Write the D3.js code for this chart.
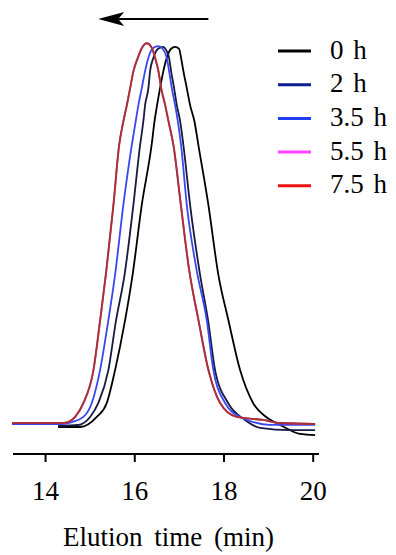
<!DOCTYPE html>
<html>
<head>
<meta charset="utf-8">
<script src="https://cdn.jsdelivr.net/npm/d3@7"></script>
</head>
<body style="margin:0">
<script>
// ---- data (elution time in min, normalized signal) ----
const seriesNames = ["0 h", "2 h", "3.5 h", "5.5 h", "7.5 h"];
const legendColors = ["#000000", "#0d1f8f", "#1f3df5", "#ff44ff", "#ee1111"];
const lineColors = ["#000000", "#141a40", "#3a46f0", "#c0466e", "#a8303c"];

const t0h = [14.28, 14.774, 15.148, 15.372, 15.558, 15.783, 15.951, 16.157, 16.377, 16.444, 16.5, 16.567, 16.641, 16.717, 16.814, 16.904, 16.993, 17.038, 17.09, 17.166, 17.24, 17.336, 17.426, 17.65, 17.874, 18.099, 18.361, 18.652, 18.944, 19.258, 19.482, 19.706, 20.043];
const y0h = [-1.06, -1.06, 1.6, 5.3, 14.0, 27.2, 39.2, 57.7, 73.5, 79.9, 84.1, 88.6, 93.1, 96.6, 99.0, 99.5, 99.0, 96.6, 93.1, 88.6, 84.1, 79.9, 73.5, 57.7, 39.2, 27.2, 14.0, 5.3, 1.6, -0.5, -1.9, -2.9, -3.2];

const t2h = [14.28, 14.729, 14.998, 15.184, 15.408, 15.581, 15.771, 15.969, 16.119, 16.193, 16.231, 16.305, 16.343, 16.417, 16.522, 16.635, 16.702, 16.769, 16.814, 16.881, 16.942, 17.016, 17.09, 17.24, 17.464, 17.643, 17.8, 18.092, 18.473, 18.809, 19.482, 20.043];
const y2h = [-0.79, -0.53, 1.6, 5.3, 14.0, 27.2, 39.2, 57.7, 73.5, 79.9, 84.1, 88.6, 93.1, 96.6, 99.0, 99.5, 98.7, 96.6, 93.1, 88.6, 84.1, 79.9, 73.5, 57.7, 39.2, 27.2, 14.0, 5.3, 0.8, -1.3, -1.9, -1.9];

const t35h = [13.249, 14.37, 14.594, 14.848, 15.036, 15.222, 15.408, 15.558, 15.744, 15.933, 16.022, 16.081, 16.157, 16.231, 16.305, 16.41, 16.529, 16.623, 16.717, 16.769, 16.83, 16.904, 16.964, 17.038, 17.166, 17.386, 17.614, 17.762, 18.025, 18.361, 18.518, 19.034, 20.043];
const y35h = [-0.26, -0.26, 0.26, 1.6, 5.3, 14.0, 27.2, 39.2, 57.7, 73.5, 79.9, 84.1, 88.6, 93.1, 96.6, 99.2, 99.7, 99.0, 96.6, 93.1, 88.6, 84.1, 79.9, 73.5, 57.7, 40.5, 27.2, 14.0, 5.3, 1.6, 0.8, -0.5, -0.5];

const t55h = [13.249, 14.33, 14.51, 14.665, 14.852, 15.076, 15.226, 15.36, 15.524, 15.652, 15.748, 15.825, 15.899, 15.973, 16.071, 16.161, 16.272, 16.384, 16.458, 16.532, 16.594, 16.683, 16.757, 16.869, 17.035, 17.221, 17.43, 17.654, 17.915, 18.29, 18.88, 19.26, 20.043];
const y55h = [0, 0, 0.26, 1.6, 5.3, 14.0, 27.2, 39.9, 57.7, 73.5, 79.9, 84.1, 88.6, 93.1, 96.6, 99.2, 100.4, 99.2, 96.6, 93.1, 88.6, 84.1, 79.9, 73.5, 57.7, 40.5, 27.2, 14.0, 5.3, 1.6, 0.8, 0, -0.26];

const t75h = [13.249, 14.325, 14.504, 14.661, 14.848, 15.072, 15.222, 15.357, 15.52, 15.648, 15.744, 15.821, 15.895, 15.969, 16.067, 16.157, 16.269, 16.381, 16.455, 16.529, 16.59, 16.679, 16.753, 16.865, 17.031, 17.217, 17.426, 17.65, 17.911, 18.287, 18.877, 19.258, 20.043];
const y75h = [0, 0, 0.26, 1.6, 5.3, 14.0, 27.2, 39.9, 57.7, 73.5, 79.9, 84.1, 88.6, 93.1, 96.6, 99.2, 100.5, 99.2, 96.6, 93.1, 88.6, 84.1, 79.9, 73.5, 57.7, 40.5, 27.2, 14.0, 5.3, 1.6, 0.8, 0, -0.26];

const xTicks = [14, 16, 18, 20];
const xLabel = "Elution time (min)";
const arrowFrom = 17.65, arrowTo = 15.18, arrowLevel = 106.9;

const seriesT = [t0h, t2h, t35h, t55h, t75h];
const seriesY = [y0h, y2h, y35h, y55h, y75h];

// ---- drawing ----
const W = 396, H = 555;
const FONT = "'Liberation Serif', Tinos, 'Times New Roman', serif";
const FS = "27px";
const svg = d3.select("body").append("svg")
  .attr("width", W).attr("height", H)
  .style("display", "block");

const x = d3.scaleLinear().domain([13.27, 20.13]).range([13, 319]);
const y = d3.scaleLinear().domain([0, 100]).range([423, 45]);
const axisY = 454;

const line = d3.line().x(d => x(d[0])).y(d => y(d[1])).curve(d3.curveMonotoneX);
[0, 1, 2, 3, 4].forEach(i => {
  const pts = seriesT[i].map((t, k) => [t, seriesY[i][k]]);
  svg.append("path")
    .datum(pts)
    .attr("d", line)
    .attr("fill", "none")
    .attr("stroke", lineColors[i])
    .attr("stroke-width", 1.8)
    .attr("stroke-linejoin", "round");
});

// x axis
const gx = svg.append("g").attr("transform", `translate(0,${axisY})`);
gx.append("path")
  .attr("d", `M${x.range()[0]},0H${x.range()[1]}`)
  .attr("stroke", "#000").attr("stroke-width", 2).attr("fill", "none");
const ticks = gx.selectAll("g.tick").data(xTicks).join("g")
  .attr("class", "tick")
  .attr("transform", d => `translate(${x(d)},0)`);
ticks.append("line").attr("y1", 0).attr("y2", 8).attr("stroke", "#000").attr("stroke-width", 2);
ticks.append("text")
  .attr("y", 46)
  .attr("text-anchor", "middle")
  .style("font-family", FONT)
  .style("font-size", FS)
  .attr("fill", "#000")
  .text(d => d3.format("d")(d));

// axis title
svg.append("text")
  .attr("x", 63)
  .attr("y", 546)
  .style("font-family", FONT)
  .style("font-size", FS)
  .style("word-spacing", "5px")
  .attr("fill", "#000")
  .text(xLabel);

// arrow
const ay = y(arrowLevel);
svg.append("line")
  .attr("x1", x(arrowFrom)).attr("x2", x(arrowTo) + 20)
  .attr("y1", ay).attr("y2", ay)
  .attr("stroke", "#000").attr("stroke-width", 2);
const tip = x(arrowTo);
svg.append("path")
  .attr("d", `M${tip},${ay} L${tip + 26},${ay - 7} L${tip + 20},${ay} L${tip + 26},${ay + 7} Z`)
  .attr("fill", "#000");

// legend
const legendX = 278, legendY0 = 51, legendStep = 33.7;
const lg = svg.append("g");
seriesNames.forEach((name, i) => {
  const ly = legendY0 + i * legendStep;
  lg.append("line")
    .attr("x1", legendX).attr("x2", legendX + 33)
    .attr("y1", ly).attr("y2", ly)
    .attr("stroke", legendColors[i]).attr("stroke-width", 3);
  lg.append("text")
    .attr("x", legendX + 52)
    .attr("y", ly + 7.5)
    .style("font-family", FONT)
    .style("font-size", FS)
    .style("word-spacing", "3px")
    .attr("fill", "#000")
    .text(name);
});
</script>
</body>
</html>
